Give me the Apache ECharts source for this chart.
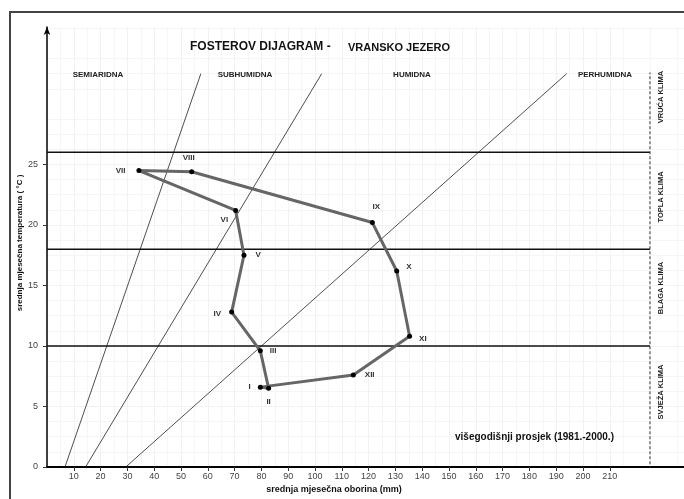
<!DOCTYPE html>
<html>
<head>
<meta charset="utf-8">
<script src="https://cdn.jsdelivr.net/npm/echarts@6/dist/echarts.min.js"></script>
<style>
html, body { margin: 0; padding: 0; background: #fff; }
#main { width: 684px; height: 499px; }
</style>
</head>
<body>
<div id="main"></div>
<script>
// podaci - Vransko jezero, višegodišnji prosjek
var mjeseci = ['I', 'II', 'III', 'IV', 'V', 'VI', 'VII', 'VIII', 'IX', 'X', 'XI', 'XII'];
var oborina = [79.6, 82.7, 79.6, 68.9, 73.5, 70.4, 34.3, 54.0, 121.4, 130.5, 135.3, 114.3];
var temperatura = [6.6, 6.5, 9.6, 12.8, 17.5, 21.2, 24.5, 24.4, 20.2, 16.2, 10.8, 7.6];

var xOznake = [10, 20, 30, 40, 50, 60, 70, 80, 90, 100, 110, 120, 130, 140, 150, 160, 170, 180, 190, 200, 210];
var yOznake = [0, 5, 10, 15, 20, 25];

// granice humidnosti: oborina pri T=0 i pri T=32.5
var graniceDno = [6.7, 14.4, 29.4];
var graniceVrh = [57.4, 102.5, 193.9];
var vrhGranica = 32.5;
// granice klime (temperatura)
var graniceKlime = [10, 18, 26];
var krajKlime = 225;

var podrucja = ['SEMIARIDNA', 'SUBHUMIDNA', 'HUMIDNA', 'PERHUMIDNA'];
var klime = ['VRUĆA KLIMA', 'TOPLA KLIMA', 'BLAGA KLIMA', 'SVJEŽA KLIMA'];

// položaj oznaka mjeseci
var labelPos = ['left', 'bottom', 'right', 'left', 'right', 'left', 'left', 'top', 'top', 'right', 'right', 'right'];
var labelOff = [[-2, 0], [0, 2], [2, 0], [-3, 2], [4, 0], [0, 9], [-6, 0], [-3, -2], [4, -4], [2, -4], [2, 2], [4, 0]];

var chart = echarts.init(document.getElementById('main'));

var font = "'Liberation Sans', Arial, sans-serif";

var tocke = [];
for (var i = 0; i < mjeseci.length; i++) {
	tocke.push({
		value: [oborina[i], temperatura[i]],
		name: mjeseci[i],
		label: { position: labelPos[i], offset: labelOff[i] }
	});
}
tocke.push({ value: [oborina[0], temperatura[0]], name: '', symbolSize: 0, label: { show: false } });

var series = [];
// granice humidnosti
for (var g = 0; g < graniceDno.length; g++) {
	series.push({
		type: 'line',
		data: [[graniceDno[g], 0], [graniceVrh[g], vrhGranica]],
		symbol: 'none',
		silent: true,
		lineStyle: { color: '#222', width: 0.8 }
	});
}
// granice klime
for (var k = 0; k < graniceKlime.length; k++) {
	series.push({
		type: 'line',
		data: [[0, graniceKlime[k]], [krajKlime, graniceKlime[k]]],
		symbol: 'none',
		silent: true,
		lineStyle: { color: '#111', width: 1.5 }
	});
}
series.push({
	type: 'line',
	data: [[krajKlime, -0.6], [krajKlime, 32.6]],
	symbol: 'none',
	silent: true,
	lineStyle: { color: '#333', width: 1, type: [3, 2] }
});
// klimatogram
series.push({
	type: 'line',
	data: tocke,
	symbol: 'circle',
	symbolSize: 5,
	itemStyle: { color: '#000' },
	lineStyle: { color: '#666', width: 3 },
	z: 5,
	label: {
		show: true,
		formatter: '{b}',
		fontFamily: font,
		fontWeight: 'bold',
		fontSize: 8,
		color: '#333'
	}
});

var graphic = [
	{ type: 'polyline', z: 100, shape: { points: [[10, 499], [10, 12], [684, 12]] }, style: { stroke: '#444', lineWidth: 2, fill: null } },
	{ type: 'text', z: 100, x: 190, y: 47, style: { text: 'FOSTEROV DIJAGRAM -', font: 'bold 12px ' + font, fill: '#111', textVerticalAlign: 'middle' } },
	{ type: 'text', z: 100, x: 348, y: 48, style: { text: 'VRANSKO JEZERO', font: 'bold 11px ' + font, fill: '#111', textVerticalAlign: 'middle' } },
	{ type: 'text', z: 100, x: 455, y: 437, style: { text: 'višegodišnji prosjek (1981.-2000.)', font: 'bold 10px ' + font, fill: '#111', textVerticalAlign: 'middle' } },
	{ type: 'text', z: 100, x: 334, y: 490, style: { text: 'srednja mjesečna oborina (mm)', font: 'bold 9px ' + font, fill: '#111', textAlign: 'center', textVerticalAlign: 'middle' } },
	{ type: 'text', z: 100, x: 20, y: 243, rotation: Math.PI / 2, style: { text: 'srednja mjesečna temperatura ( °C )', font: 'bold 8px ' + font, fill: '#111', textAlign: 'center', textVerticalAlign: 'middle' } }
];
var podX = [98, 245, 412, 605];
for (var p = 0; p < podrucja.length; p++) {
	graphic.push({ type: 'text', z: 100, x: podX[p], y: 75, style: { text: podrucja[p], font: 'bold 8px ' + font, fill: '#222', textAlign: 'center', textVerticalAlign: 'middle' } });
}
var klimY = [97, 197, 288, 392];
for (var q = 0; q < klime.length; q++) {
	graphic.push({ type: 'text', z: 100, x: 661, y: klimY[q], rotation: Math.PI / 2, style: { text: klime[q], font: 'bold 7.5px ' + font, fill: '#222', textAlign: 'center', textVerticalAlign: 'middle' } });
}

var option = {
	backgroundColor: '#fff',
	animation: false,
	grid: { left: 47, top: 27, width: 637, height: 440 },
	xAxis: {
		type: 'value',
		min: 0,
		max: 237.7,
		interval: 10,
		axisLine: { lineStyle: { color: '#000', width: 2 } },
		axisTick: { length: 4, lineStyle: { color: '#333' }, customValues: xOznake },
		axisLabel: {
			fontFamily: font,
			fontSize: 9,
			color: '#444',
			margin: 5,
			customValues: xOznake
		},
		splitLine: { show: true, lineStyle: { color: '#f2f2f2', width: 1 } },
		minorTick: { show: false, splitNumber: 2 },
		minorSplitLine: { show: true, lineStyle: { color: '#f5f5f5' } }
	},
	yAxis: {
		type: 'value',
		min: 0,
		max: 36.36,
		interval: 5,
		axisLine: { show: true, symbol: ['none', 'arrow'], symbolSize: [5, 8], lineStyle: { color: '#000', width: 1.5 } },
		axisTick: { show: true, length: 4, lineStyle: { color: '#333' }, customValues: yOznake },
		axisLabel: {
			fontFamily: font,
			fontSize: 9,
			color: '#444',
			margin: 9,
			customValues: yOznake
		},
		splitLine: { show: true, lineStyle: { color: '#f2f2f2', width: 1 } },
		minorTick: { show: false, splitNumber: 4 },
		minorSplitLine: { show: true, lineStyle: { color: '#f5f5f5' } }
	},
	graphic: graphic,
	series: series
};

chart.setOption(option);
</script>
</body>
</html>
